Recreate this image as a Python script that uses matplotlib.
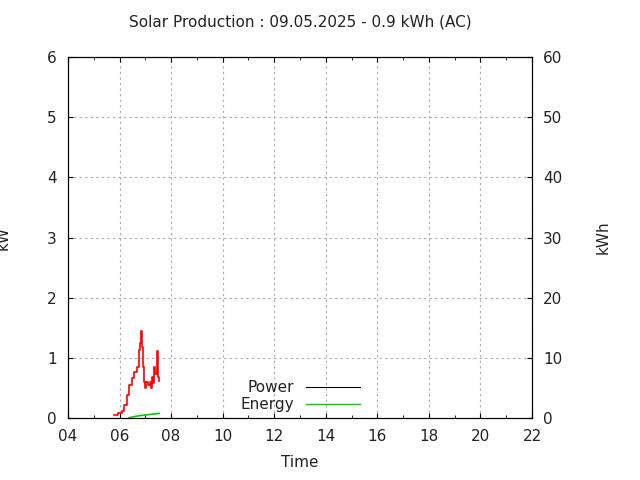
import matplotlib
matplotlib.use("Agg")
import matplotlib.pyplot as plt

power_t = [5.78, 5.95, 6.08, 6.17, 6.28, 6.38, 6.47, 6.57, 6.66, 6.74, 6.78, 6.82, 6.86, 6.90, 6.93, 6.98, 7.03, 7.11, 7.18, 7.22, 7.27, 7.31, 7.35, 7.39, 7.44, 7.47, 7.50, 7.53]
power_kw = [0.05, 0.08, 0.12, 0.22, 0.38, 0.55, 0.66, 0.76, 0.85, 1.13, 1.25, 1.45, 1.18, 0.85, 0.60, 0.50, 0.60, 0.55, 0.60, 0.50, 0.68, 0.58, 0.85, 0.73, 0.91, 1.12, 0.68, 0.62]
energy_t = [6.38, 6.6, 6.8, 7.0, 7.2, 7.4, 7.54]
energy_kwh = [0.05, 0.25, 0.4, 0.5, 0.6, 0.7, 0.75]
xticks = [4, 6, 8, 10, 12, 14, 16, 18, 20, 22]
xlabels = ["04", "06", "08", "10", "12", "14", "16", "18", "20", "22"]

fig = plt.figure(figsize=(6.4, 4.8), dpi=100)
ax = fig.add_axes([68/640, 62/480, 464/640, 361/480])
ax2 = ax.twinx()
ax.set_xlim(4, 22)
ax.set_ylim(0, 6)
ax2.set_ylim(0, 60)
ax.step(power_t, power_kw, where="post", color="#ff0000", lw=1.2)
ax2.plot(energy_t, energy_kwh, color="#00cc00", lw=1.2)
ax.set_xticks(xticks)
ax.set_xticklabels(xlabels)
ax.set_xticks([x + 1 for x in xticks[:-1]], minor=True)
ax.grid(True, color="#aaaaaa", linestyle=(0, (2, 3)), lw=0.8)
for a in (ax, ax2):
    a.tick_params(direction="in", labelsize=11, top=True, pad=8, labelcolor="#222222")
    a.tick_params(which="minor", direction="in", top=True, length=2)
ax.tick_params(axis="y", right=False)
ax.set_xlabel("Time", fontsize=11, labelpad=8, color="#222222")
ax.set_ylabel("kW", fontsize=11, labelpad=26, color="#222222")
ax2.set_ylabel("kWh", fontsize=11, labelpad=24, color="#222222")
ax.set_title("Solar Production : 09.05.2025 - 0.9 kWh (AC)", fontsize=11, pad=22, color="#222222")
h1, = ax.plot([], [], color="black", lw=0.8)
h2, = ax.plot([], [], color="#00cc00", lw=1)
leg = ax.legend([h1, h2], ["Power", "Energy"], loc="lower center", bbox_to_anchor=(0.5, 0.0),
                frameon=False, markerfirst=False, fontsize=11, handlelength=3.5,
                borderaxespad=0.0, labelspacing=0.1)
for t in leg.get_texts():
    t.set_ha("right")
    t.set_color("#222222")
fig.savefig("out.png", dpi=100)
